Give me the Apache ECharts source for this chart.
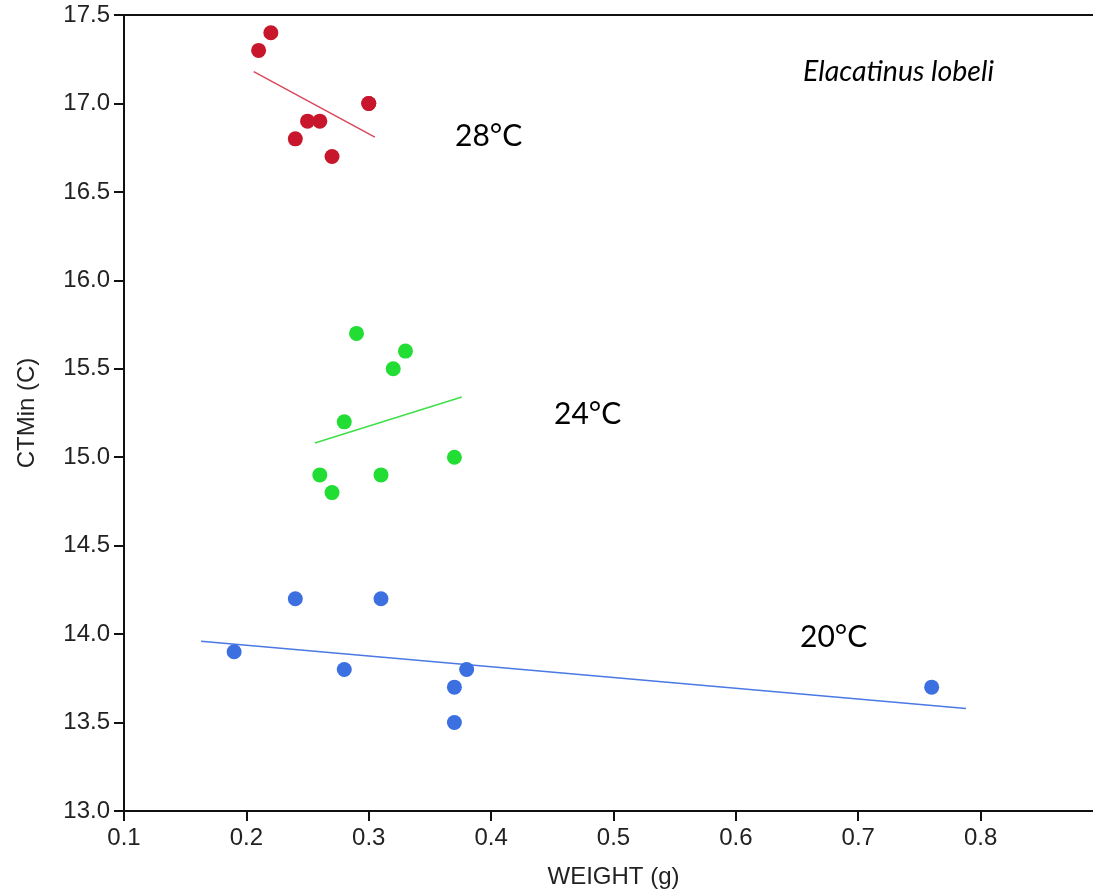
<!DOCTYPE html>
<html>
<head>
<meta charset="utf-8">
<script src="https://cdn.jsdelivr.net/npm/echarts@6/dist/echarts.min.js"></script>
<style>
html,body{margin:0;padding:0;background:#fff;}
#chart{width:1093px;height:896px;}
</style>
</head>
<body>
<div id="chart"></div>
<script>
// Data (WEIGHT g, CTMin C)
const red28 = [[0.21,17.3],[0.22,17.4],[0.24,16.8],[0.25,16.9],[0.26,16.9],[0.27,16.7],[0.30,17.0],[0.30,17.0]];
const green24 = [[0.29,15.7],[0.33,15.6],[0.32,15.5],[0.28,15.2],[0.37,15.0],[0.26,14.9],[0.31,14.9],[0.27,14.8]];
const blue20 = [[0.24,14.2],[0.31,14.2],[0.19,13.9],[0.28,13.8],[0.38,13.8],[0.37,13.7],[0.76,13.7],[0.37,13.5]];
const fitRed = [[0.206,17.18],[0.305,16.81]];
const fitGreen = [[0.256,15.08],[0.376,15.34]];
const fitBlue = [[0.163,13.96],[0.788,13.58]];
const xTicks = [0.1,0.2,0.3,0.4,0.5,0.6,0.7,0.8];
const yTicks = [13.0,13.5,14.0,14.5,15.0,15.5,16.0,16.5,17.0,17.5];
const groupLabels = ['28°C','24°C','20°C'];
const speciesName = 'Elacatinus lobeli';

const chart = echarts.init(document.getElementById('chart'));
const labelFont = {fontFamily:'Liberation Sans, Arial, sans-serif', fontSize:24, color:'#222'};
const annFont = 'Lato, "Open Sans", sans-serif';

function scatter(data, color){
  return {type:'scatter', data:data, symbol:'circle', symbolSize:15, itemStyle:{color:color, opacity:1}, z:3};
}
function fit(data, color){
  return {type:'line', data:data, showSymbol:false, symbol:'none', lineStyle:{color:color, width:1.5}, z:2, silent:true};
}

chart.setOption({
  animation:false,
  backgroundColor:'#fff',
  grid:{left:124, top:15, width:979, height:796, show:true, borderColor:'#111', borderWidth:2, backgroundColor:'transparent', outerBoundsMode:'none', containLabel:false},
  xAxis:{
    type:'value', min:xTicks[0], max:0.9, interval:0.1,
    name:'WEIGHT (g)', nameLocation:'middle', nameGap:54,
    nameTextStyle:labelFont,
    axisLine:{show:true, onZero:false, lineStyle:{color:'#111', width:2}},
    axisTick:{show:true, inside:false, length:10, lineStyle:{color:'#111', width:2}},
    splitLine:{show:false},
    axisLabel:Object.assign({margin:15, showMaxLabel:false, formatter:function(v){
      const r = Math.round(v*10)/10; return xTicks.some(t=>Math.abs(t-r)<1e-9) ? r.toFixed(1) : '';
    }}, labelFont)
  },
  yAxis:{
    type:'value', min:yTicks[0], max:yTicks[yTicks.length-1], interval:0.5,
    name:'CTMin (C)', nameLocation:'middle', nameGap:85,
    nameTextStyle:labelFont,
    axisLine:{show:true, onZero:false, lineStyle:{color:'#111', width:2}},
    axisTick:{show:true, inside:false, length:10, lineStyle:{color:'#111', width:2}},
    splitLine:{show:false},
    axisLabel:Object.assign({margin:14, formatter:function(v){return v.toFixed(1);}}, labelFont)
  },
  series:[
    fit(fitRed, '#d9485a'),
    fit(fitGreen, '#3ee048'),
    fit(fitBlue, '#4a78e4'),
    scatter(red28, '#c8172c'),
    scatter(green24, '#22dd33'),
    scatter(blue20, '#3c6fe0')
  ],
  graphic:[
    {type:'text', left:455, top:121, style:{text:groupLabels[0], font:'30px '+annFont, fill:'#000'}},
    {type:'text', left:554, top:399, style:{text:groupLabels[1], font:'30px '+annFont, fill:'#000'}},
    {type:'text', left:800, top:622, style:{text:groupLabels[2], font:'30px '+annFont, fill:'#000'}},
    {type:'text', left:803, top:57, style:{text:speciesName, font:'italic 28.5px '+annFont, fill:'#000'}}
  ]
});
</script>
</body>
</html>
